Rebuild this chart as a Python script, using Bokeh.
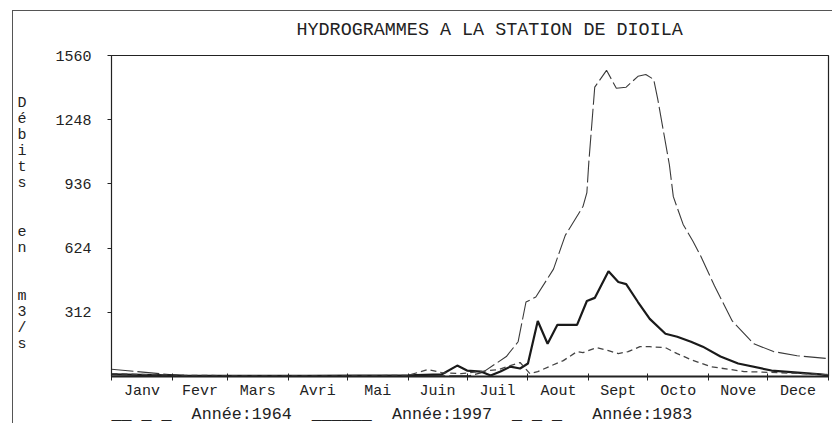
from bokeh.plotting import figure
from bokeh.models import (FixedTicker, Range1d, Title, LinearAxis, InlineStyleSheet)
from bokeh.embed import file_html
from bokeh.resources import INLINE

# ---------------- data (day of year, discharge m3/s) ----------------
months = ["Janv", "Fevr", "Mars", "Avri", "Mai", "Juin", "Juil", "Aout", "Sept", "Octo", "Nove", "Dece"]
month_days = [31, 28, 31, 30, 31, 30, 31, 31, 30, 31, 30, 31]
y_ticks = [312, 624, 936, 1248, 1560]

days_1964 = [0, 37, 60, 120, 182, 189, 201, 207, 211, 216, 225, 231, 240, 242, 243, 246, 252, 257,
             262, 268, 272, 276, 278, 284, 286, 291, 296, 300, 307, 316, 327, 337, 349, 365]
q_1964 = [35, 3, 2, 2, 3, 20, 97, 169, 362, 386, 522, 686, 826, 894, 1043, 1406, 1488, 1401,
          1406, 1459, 1468, 1444, 1352, 1029, 874, 739, 657, 584, 440, 270, 159, 121, 101, 87]

days_1997 = [0, 37, 100, 151, 168, 176, 181, 188, 193, 198, 203, 208, 212, 217, 222, 227, 237, 242,
             246, 253, 258, 262, 268, 274, 282, 288, 295, 301, 310, 319, 336, 361, 365]
q_1997 = [10, 4, 3, 5, 10, 53, 29, 24, 5, 24, 48, 39, 63, 270, 159, 251, 251, 367,
          382, 512, 459, 449, 362, 280, 208, 193, 169, 145, 97, 63, 29, 10, 5]

days_1983 = [0, 37, 100, 151, 161, 168, 178, 197, 203, 208, 213, 217, 224, 230, 237, 240, 247, 253,
             258, 263, 269, 274, 282, 288, 295, 305, 322, 339, 362, 365]
q_1983 = [14, 5, 4, 5, 34, 19, 14, 34, 53, 68, 14, 24, 53, 77, 121, 116, 140, 126,
          111, 121, 145, 145, 140, 111, 82, 48, 24, 19, 10, 10]

labels = ["Année:1964", "Année:1997", "Année:1983"]
# text-mode legend samples, as printed on the original plot
samples = ["__ _ _", "______", "_ _ _ "]
# vertical axis title, written one character per line (blank lines are gaps)
y_title_lines = ["D", "é", "b", "i", "t", "s", "", "", "e", "n", "", "", "m", "3", "/", "s"]

# month boundaries and mid-points (derived from month lengths)
bounds = [0]
for d in month_days:
    bounds.append(bounds[-1] + d)
mids = [(bounds[i] + bounds[i + 1]) / 2 for i in range(12)]

FONT = "Liberation Mono"
INK = "#222222"
NB = "\u00a0"  # non-breaking space, so SVG keeps the column spacing

frame_css = InlineStyleSheet(css="""
:host::after {
  content: ""; position: absolute; left: 12px; top: 10px; right: -20px; bottom: -20px;
  border-left: 1px solid #555; border-top: 1px solid #555; pointer-events: none;
}
""")

p = figure(width=832, height=423, output_backend="svg", toolbar_location=None,
           x_range=Range1d(0, 365), y_range=Range1d(0, 1560),
           min_border_left=111, min_border_right=4, min_border_top=55, min_border_bottom=45,
           stylesheets=[frame_css])
p.add_layout(Title(text="HYDROGRAMMES A LA STATION DE DIOILA", align="left", offset=185,
                   text_font=FONT, text_font_size="18.4px", text_font_style="normal",
                   text_color=INK, standoff=29), "above")

p.xgrid.visible = False
p.ygrid.visible = False
p.outline_line_color = INK
p.outline_line_width = 1.2
p.background_fill_color = "white"
p.border_fill_color = "white"

p.line(days_1964, q_1964, line_color="#3a3a3a", line_width=1.1, line_dash="22 4")
p.line(days_1997, q_1997, line_color="#1a1a1a", line_width=2.2)
p.line(days_1983, q_1983, line_color="#444444", line_width=1.3, line_dash="6 4")

# x axis: labels centred in months, tick marks at month boundaries
xa = p.xaxis[0]
xa.ticker = FixedTicker(ticks=mids, minor_ticks=bounds)
xa.major_label_overrides = {m: name for m, name in zip(mids, months)}
xa.major_tick_in = 0
xa.major_tick_out = 0
xa.minor_tick_in = 3
xa.minor_tick_out = 4
xa.minor_tick_line_color = INK
xa.axis_line_color = INK
xa.axis_line_width = 2
xa.major_label_standoff = 2
xa.major_label_text_font = FONT
xa.major_label_text_font_size = "15px"
xa.major_label_text_color = INK

ya = p.yaxis[0]
ya.ticker = FixedTicker(ticks=y_ticks, minor_ticks=[])
ya.major_tick_in = 0
ya.major_tick_out = 4
ya.major_tick_line_color = INK
ya.axis_line_color = INK
ya.major_label_standoff = 16
ya.major_label_text_font = FONT
ya.major_label_text_font_size = "15px"
ya.major_label_text_color = INK

# stacked title as an extra left axis: one character per line, one line = a quarter tick step
step = y_ticks[0] / 4
title_pos = [y_ticks[3] + step - i * step for i in range(len(y_title_lines))]
title_ticks = [v for v, ch in zip(title_pos, y_title_lines) if ch]
title_axis = LinearAxis(ticker=FixedTicker(ticks=title_ticks, minor_ticks=[]),
                        major_label_overrides={v: ch for v, ch in zip(title_pos, y_title_lines) if ch},
                        axis_line_color=None, major_tick_line_color=None, minor_tick_line_color=None,
                        major_tick_out=0, major_tick_in=0, major_label_standoff=26,
                        major_label_text_font=FONT, major_label_text_font_size="15px",
                        major_label_text_color=INK)
p.add_layout(title_axis, "left")

# legend line printed under the axis, text-mode style (samples + labels)
legend_text = (NB * 2).join(f"{s.replace(' ', NB)}{NB * 2}{l}" for s, l in zip(samples, labels))
p.add_layout(Title(text=legend_text, align="left", offset=0, standoff=0,
                   text_font=FONT, text_font_size="16.7px", text_font_style="normal",
                   text_color=INK), "below")

open("out.html", "w").write(file_html(p, INLINE))
